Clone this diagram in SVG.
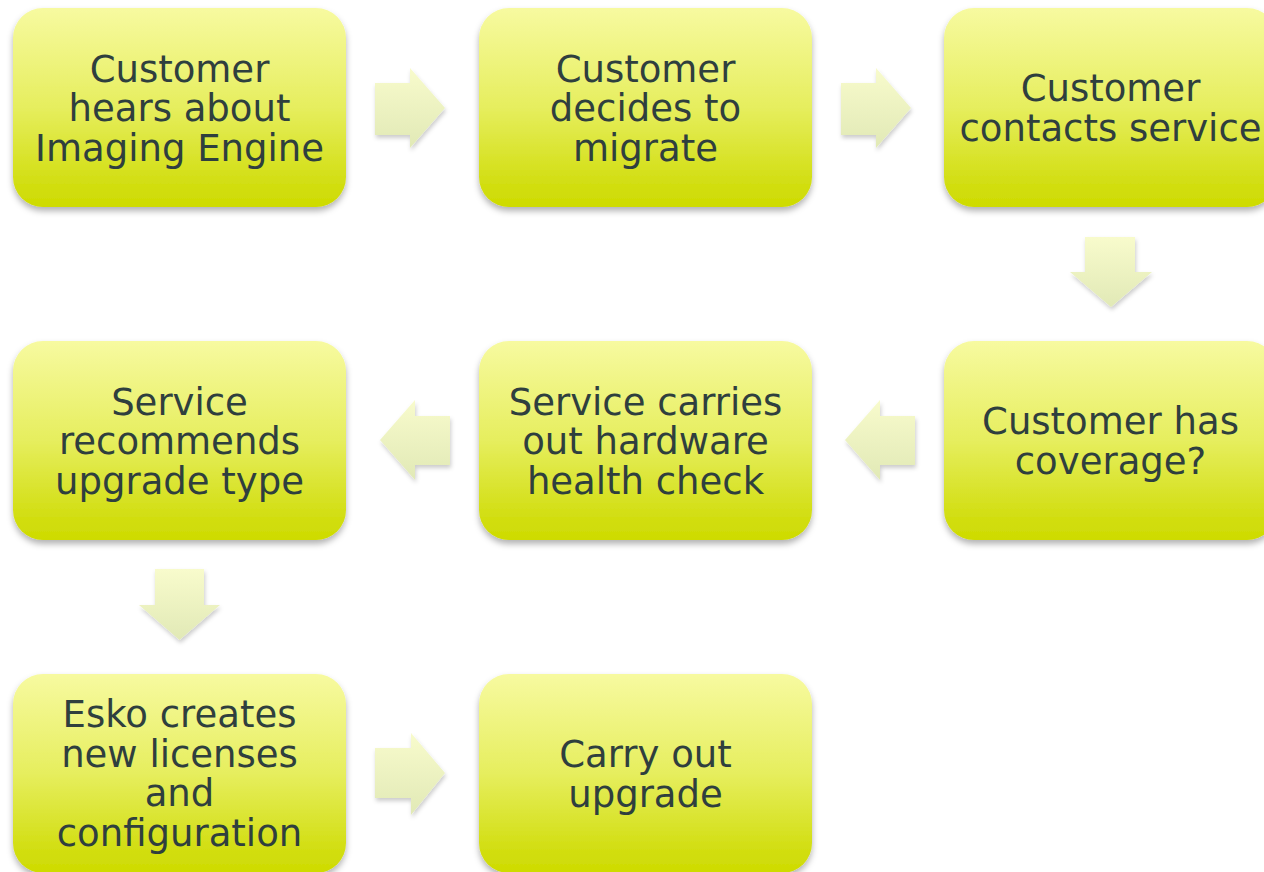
<svg xmlns="http://www.w3.org/2000/svg" width="1264" height="872" viewBox="0 0 1264 872">
<defs>
<linearGradient id="boxg" x1="0" y1="0" x2="0" y2="1">
<stop offset="0" stop-color="#f7faa0"/>
<stop offset="0.5" stop-color="#e6ee5e"/>
<stop offset="0.88" stop-color="#d2de12"/>
<stop offset="1" stop-color="#cedb00"/>
</linearGradient>
<linearGradient id="arrg" x1="0" y1="0" x2="0" y2="1">
<stop offset="0" stop-color="#f8fbcc"/>
<stop offset="1" stop-color="#e1e9b6"/>
</linearGradient>
<filter id="sh" x="-10%" y="-10%" width="120%" height="130%">
<feDropShadow dx="0" dy="4" stdDeviation="3" flood-color="#000" flood-opacity="0.3"/>
</filter>
<filter id="ash" x="-20%" y="-20%" width="140%" height="140%">
<feDropShadow dx="1" dy="3" stdDeviation="2" flood-color="#000" flood-opacity="0.2"/>
</filter>
</defs>
<style>
.box{fill:url(#boxg);filter:url(#sh);}
.arr{fill:url(#arrg);filter:url(#ash);}
text{font-family:"DejaVu Sans",Verdana,sans-serif;font-size:37px;fill:#2f3f3e;text-anchor:middle;}
</style>
<rect width="1264" height="872" fill="#ffffff"/>
<g id="connectors">
<polygon class="arr" points="375,83 410,83 410,68 445,108 410,148 410,135 375,135"/>
<polygon class="arr" points="841,83 876,83 876,68 911,108 876,148 876,135 841,135"/>
<polygon class="arr" points="1085,237 1135,237 1135,272 1152,272 1111,307 1070,272 1085,272"/>
<polygon class="arr" points="915,416 880,416 880,400 845,440 880,480 880,465 915,465"/>
<polygon class="arr" points="450,416 415,416 415,400 380,440 415,480 415,465 450,465"/>
<polygon class="arr" points="155,569 204,569 204,605 220,605 179.5,640 139,605 155,605"/>
<polygon class="arr" points="375,748 411,748 411,733 445,773 411,815 411,798 375,798"/>
</g>
<g id="n1">
<rect class="box" x="13" y="8" width="333" height="199" rx="30"/>
<text x="179.5" y="81.5">Customer</text>
<text x="179.5" y="121">hears about</text>
<text x="179.5" y="160.5">Imaging Engine</text>
</g>
<g id="n2">
<rect class="box" x="479" y="8" width="333" height="199" rx="30"/>
<text x="645.5" y="81.5">Customer</text>
<text x="645.5" y="121">decides to</text>
<text x="645.5" y="160.5">migrate</text>
</g>
<g id="n3">
<rect class="box" x="944" y="8" width="333" height="199" rx="30"/>
<text x="1110.5" y="101">Customer</text>
<text x="1110.5" y="140.5">contacts service</text>
</g>
<g id="n4">
<rect class="box" x="944" y="341" width="333" height="199" rx="30"/>
<text x="1110.5" y="434">Customer has</text>
<text x="1110.5" y="473.5">coverage?</text>
</g>
<g id="n5">
<rect class="box" x="479" y="341" width="333" height="199" rx="30"/>
<text x="645.5" y="414.5">Service carries</text>
<text x="645.5" y="454">out hardware</text>
<text x="645.5" y="493.5">health check</text>
</g>
<g id="n6">
<rect class="box" x="13" y="341" width="333" height="199" rx="30"/>
<text x="179.5" y="414.5">Service</text>
<text x="179.5" y="454">recommends</text>
<text x="179.5" y="493.5">upgrade type</text>
</g>
<g id="n7">
<rect class="box" x="13" y="674" width="333" height="199" rx="30"/>
<text x="179.5" y="727">Esko creates</text>
<text x="179.5" y="766.5">new licenses</text>
<text x="179.5" y="806">and</text>
<text x="179.5" y="845.5">configuration</text>
</g>
<g id="n8">
<rect class="box" x="479" y="674" width="333" height="199" rx="30"/>
<text x="645.5" y="767">Carry out</text>
<text x="645.5" y="806.5">upgrade</text>
</g>
</svg>
